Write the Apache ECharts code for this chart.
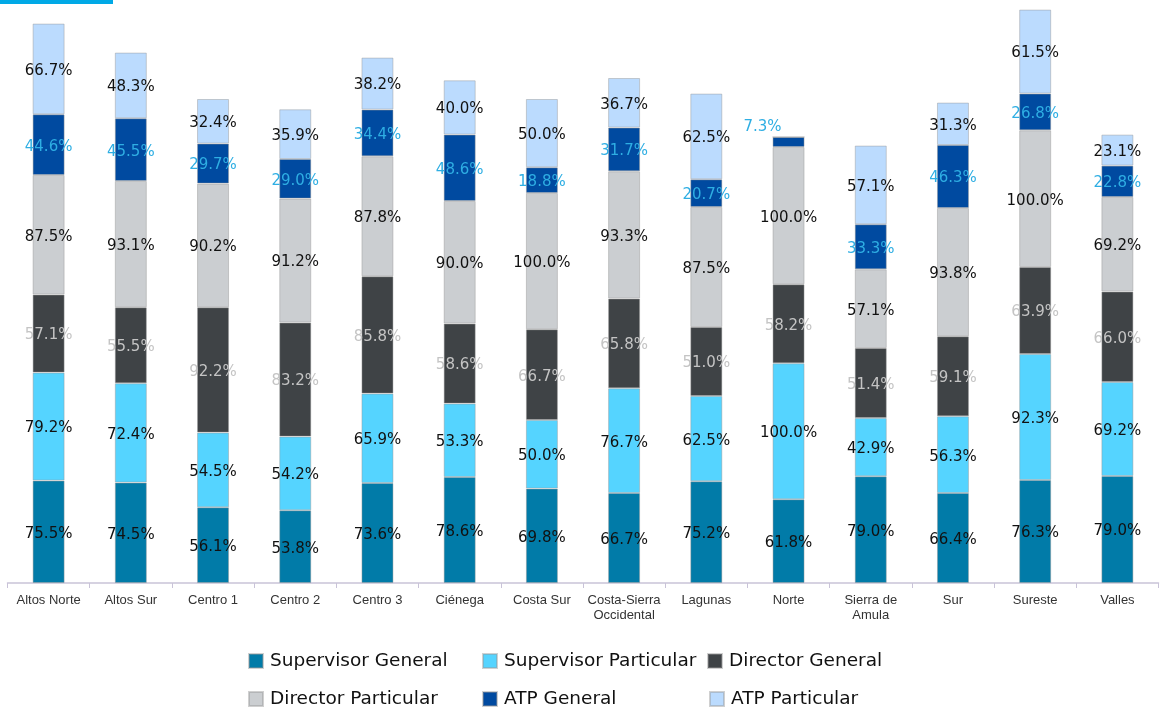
<!DOCTYPE html>
<html>
<head>
<meta charset="utf-8">
<script src="https://cdn.jsdelivr.net/npm/echarts@6/dist/echarts.min.js"></script>
<style>
    html, body { margin: 0; padding: 0; background: #fff; }
    #chartDiv { width: 1162px; height: 707px; }
</style>
</head>
<body>
<div id="chartDiv"></div>
<script>
var regiones = ['Altos Norte', 'Altos Sur', 'Centro 1', 'Centro 2', 'Centro 3', 'Ciénega', 'Costa Sur',
    'Costa-Sierra\nOccidental', 'Lagunas', 'Norte', 'Sierra de\nAmula', 'Sur', 'Sureste', 'Valles'];

var nombres = ['Supervisor General', 'Supervisor Particular', 'Director General',
    'Director Particular', 'ATP General', 'ATP Particular'];

// alto de cada segmento
var supGeneral = [102.4, 100.4, 75.7, 72.7, 100, 106, 94.4, 90, 101.7, 83.7, 106.7, 90, 103, 107];
var supParticular = [108, 99.3, 74.7, 73.7, 89.4, 73.4, 68.6, 104.7, 85.3, 136, 58.3, 76.7, 126, 94];
var dirGeneral = [78, 76, 125.3, 114, 117.3, 80, 90.7, 89.7, 69, 79, 70, 80, 87, 90.4];
var dirParticular = [119.6, 126.3, 123.7, 124, 120, 122.6, 136.3, 127.3, 120, 137.3, 78.7, 128.3, 136.7, 94.6];
var atpGeneral = [60.7, 62.7, 40, 39.6, 46.7, 66.4, 25.7, 43.7, 27.7, 10, 45, 63, 36.7, 31.4];
var atpParticular = [90.7, 65.7, 44.6, 49.7, 52, 54.3, 68.3, 49.6, 85.7, 0, 78.7, 42.4, 84, 31];

// porcentajes que se muestran
var pctSupGeneral = ['75.5', '74.5', '56.1', '53.8', '73.6', '78.6', '69.8', '66.7', '75.2', '61.8', '79.0', '66.4', '76.3', '79.0'];
var pctSupParticular = ['79.2', '72.4', '54.5', '54.2', '65.9', '53.3', '50.0', '76.7', '62.5', '100.0', '42.9', '56.3', '92.3', '69.2'];
var pctDirGeneral = ['57.1', '55.5', '92.2', '83.2', '85.8', '58.6', '66.7', '65.8', '51.0', '58.2', '51.4', '59.1', '63.9', '66.0'];
var pctDirParticular = ['87.5', '93.1', '90.2', '91.2', '87.8', '90.0', '100.0', '93.3', '87.5', '100.0', '57.1', '93.8', '100.0', '69.2'];
var pctAtpGeneral = ['44.6', '45.5', '29.7', '29.0', '34.4', '48.6', '18.8', '31.7', '20.7', '7.3', '33.3', '46.3', '26.8', '22.8'];
var pctAtpParticular = ['66.7', '48.3', '32.4', '35.9', '38.2', '40.0', '50.0', '36.7', '62.5', '', '57.1', '31.3', '61.5', '23.1'];

var colores = ['#017ba8', '#55d4ff', '#3f4346', '#cbced1', '#004aa0', '#bbdbfe'];
var coloresTexto = ['#111', '#111', '#c4c4c4', '#111', '#2eaee3', '#111'];

function serie(idx, valores, pcts) {
    var data = valores.map(function (v, i) {
        var item = { value: v, pct: pcts[i] };
        // el 7.3% de Norte va fuera de la barra
        if (idx === 4 && i === 9) {
            item.label = { offset: [-26, -15] };
        }
        return item;
    });
    return {
        name: nombres[idx],
        type: 'bar',
        stack: 'total',
        barWidth: 32,
        data: data,
        itemStyle: {
            color: colores[idx],
            borderColor: 'rgba(150,150,150,0.45)',
            borderWidth: 1
        },
        label: {
            show: true,
            position: 'inside',
            offset: [0, 2],
            color: coloresTexto[idx],
            fontFamily: 'DejaVu Sans',
            fontSize: 15,
            formatter: function (p) {
                return p.data.pct ? p.data.pct + '%' : '';
            }
        }
    };
}

// una leyenda por elemento para fijar las columnas
function leyenda(left, top, nombre) {
    return {
        orient: 'horizontal',
        left: left,
        top: top,
        itemWidth: 14,
        itemHeight: 14,
        icon: 'rect',
        selectedMode: false,
        data: [nombre],
        textStyle: {
            fontFamily: 'DejaVu Sans',
            fontSize: 18.5,
            lineHeight: 20,
            color: '#111',
            padding: [0, 0, 0, 2]
        }
    };
}

var option = {
    animation: false,
    backgroundColor: '#fff',
    graphic: [{
        type: 'rect',
        left: 0,
        top: 0,
        shape: { width: 113, height: 4 },
        style: { fill: '#00a9e6' }
    }],
    legend: [
        leyenda(243, 646, nombres[0]),
        leyenda(477, 646, nombres[1]),
        leyenda(702, 646, nombres[2]),
        leyenda(243, 684, nombres[3]),
        leyenda(477, 684, nombres[4]),
        leyenda(704, 684, nombres[5])
    ],
    grid: {
        left: 7.5,
        right: 3.5,
        top: 3,
        bottom: 124,
        containLabel: false
    },
    xAxis: {
        type: 'category',
        data: regiones,
        axisLine: { lineStyle: { color: '#c9c3d8', width: 1.5 } },
        axisTick: { show: true, length: 5, lineStyle: { color: '#c9c3d8' } },
        axisLabel: {
            interval: 0,
            margin: 10,
            fontFamily: 'Liberation Sans',
            fontSize: 13,
            lineHeight: 15,
            color: '#333'
        }
    },
    yAxis: {
        type: 'value',
        min: 0,
        max: 580,
        show: false,
        splitLine: { show: false }
    },
    series: [
        serie(0, supGeneral, pctSupGeneral),
        serie(1, supParticular, pctSupParticular),
        serie(2, dirGeneral, pctDirGeneral),
        serie(3, dirParticular, pctDirParticular),
        serie(4, atpGeneral, pctAtpGeneral),
        serie(5, atpParticular, pctAtpParticular)
    ]
};

var chart = echarts.init(document.getElementById('chartDiv'));
chart.setOption(option);
</script>
</body>
</html>
